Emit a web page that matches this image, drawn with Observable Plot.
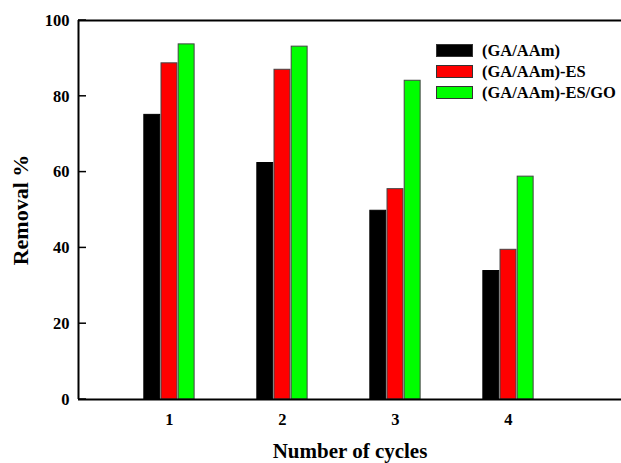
<!DOCTYPE html>
<html>
<head>
<meta charset="utf-8">
<script src="https://cdn.jsdelivr.net/npm/d3@7"></script>
<script src="https://cdn.jsdelivr.net/npm/@observablehq/plot@0.6"></script>
<style>
  html, body { margin: 0; padding: 0; background: #fff; }
  #chart { position: relative; width: 621px; height: 463px; font-family: "Liberation Serif", "DejaVu Serif", serif; }
  #legend { position: absolute; left: 436px; top: 40px; font-weight: bold; font-size: 16.5px; font-family: "Liberation Serif", "DejaVu Serif", serif; }
  .item { display: flex; align-items: center; height: 21px; }
  .sw { width: 35px; height: 11px; border: 1px solid #333; margin-right: 9px; }
</style>
</head>
<body>
<div id="chart"><div id="legend"></div></div>
<script>
const cycles = [1, 2, 3, 4];
const seriesNames = ["(GA/AAm)", "(GA/AAm)-ES", "(GA/AAm)-ES/GO"];
const seriesColors = ["#000000", "#ff0000", "#00ff00"];
const gaAAm = [75.1, 62.4, 49.8, 33.9];
const gaAAmES = [88.7, 87.0, 55.5, 39.5];
const gaAAmESGO = [93.7, 93.1, 84.1, 58.8];
const yTicks = [0, 20, 40, 60, 80, 100];
const xTicks = [1, 2, 3, 4];
const xDomain = [0.195, 5.0];
const yDomain = [0, 100];

const seriesValues = [gaAAm, gaAAmES, gaAAmESGO];
const rows = [];
seriesValues.forEach((vals, si) => {
  vals.forEach((v, ci) => rows.push({cycle: cycles[ci], series: seriesNames[si], si, value: v}));
});

const groupStep = 0.152, halfBar = 0.0705;
const serif = "'Liberation Serif', 'DejaVu Serif', serif";
const W = 621, ML = 78, MR = 0, tickLen = 8;

const chart = Plot.plot({
  width: W,
  height: 463,
  marginLeft: ML,
  marginRight: MR,
  marginTop: 20,
  marginBottom: 64,
  style: { fontFamily: serif, fontWeight: "bold", fontSize: "16.5px", color: "#000", background: "#fff" },
  x: { domain: xDomain },
  y: { domain: yDomain },
  color: { domain: seriesNames, range: seriesColors },
  marks: [
    Plot.rectY(rows, {
      x1: d => d.cycle + (d.si - 1) * groupStep - halfBar,
      x2: d => d.cycle + (d.si - 1) * groupStep + halfBar,
      y1: 0,
      y2: "value",
      fill: "series",
      stroke: d => d.si === 0 ? "#000" : "#444",
      strokeWidth: 1
    }),
    Plot.axisY(yTicks, { ticks: yTicks, tickSize: 0, tickPadding: 9, fontSize: 16.5, label: "Removal %", labelArrow: "none", labelAnchor: "center", labelOffset: 66, tickFormat: d => String(d) }),
    Plot.axisX(xTicks, { ticks: xTicks, tickSize: 0, tickPadding: 14, fontSize: 16.5, label: "Number of cycles", labelArrow: "none", labelAnchor: "center", labelOffset: 58, tickFormat: d => String(d) }),
    Plot.ruleY([yDomain[0], yDomain[1]], { stroke: "#000", strokeWidth: 2 }),
    Plot.ruleX([xDomain[0]], { stroke: "#000", strokeWidth: 2 })
  ]
});

// inward y tick marks, positioned through Plot's own y scale
const ySc = chart.scale("y");
const g = d3.select(chart).append("g").attr("aria-label", "y-axis tick").attr("stroke", "#000").attr("stroke-width", 1.5);
yTicks.forEach(v => {
  const y = ySc.apply(v);
  g.append("line").attr("x1", ML).attr("x2", ML + tickLen).attr("y1", y).attr("y2", y);
});

const setSize = (sel, size) => chart.querySelectorAll(sel).forEach(el => {
  el.setAttribute("font-size", size);
  el.querySelectorAll("text").forEach(t => t.setAttribute("font-size", size));
});
setSize("[aria-label='y-axis label']", "22px");
setSize("[aria-label='x-axis label']", "21px");

document.getElementById("chart").prepend(chart);

const legend = document.getElementById("legend");
seriesNames.forEach((name, i) => {
  const item = document.createElement("div");
  item.className = "item";
  const sw = document.createElement("div");
  sw.className = "sw";
  sw.style.background = seriesColors[i];
  const label = document.createElement("span");
  label.textContent = name;
  item.appendChild(sw);
  item.appendChild(label);
  legend.appendChild(item);
});
</script>
</body>
</html>
